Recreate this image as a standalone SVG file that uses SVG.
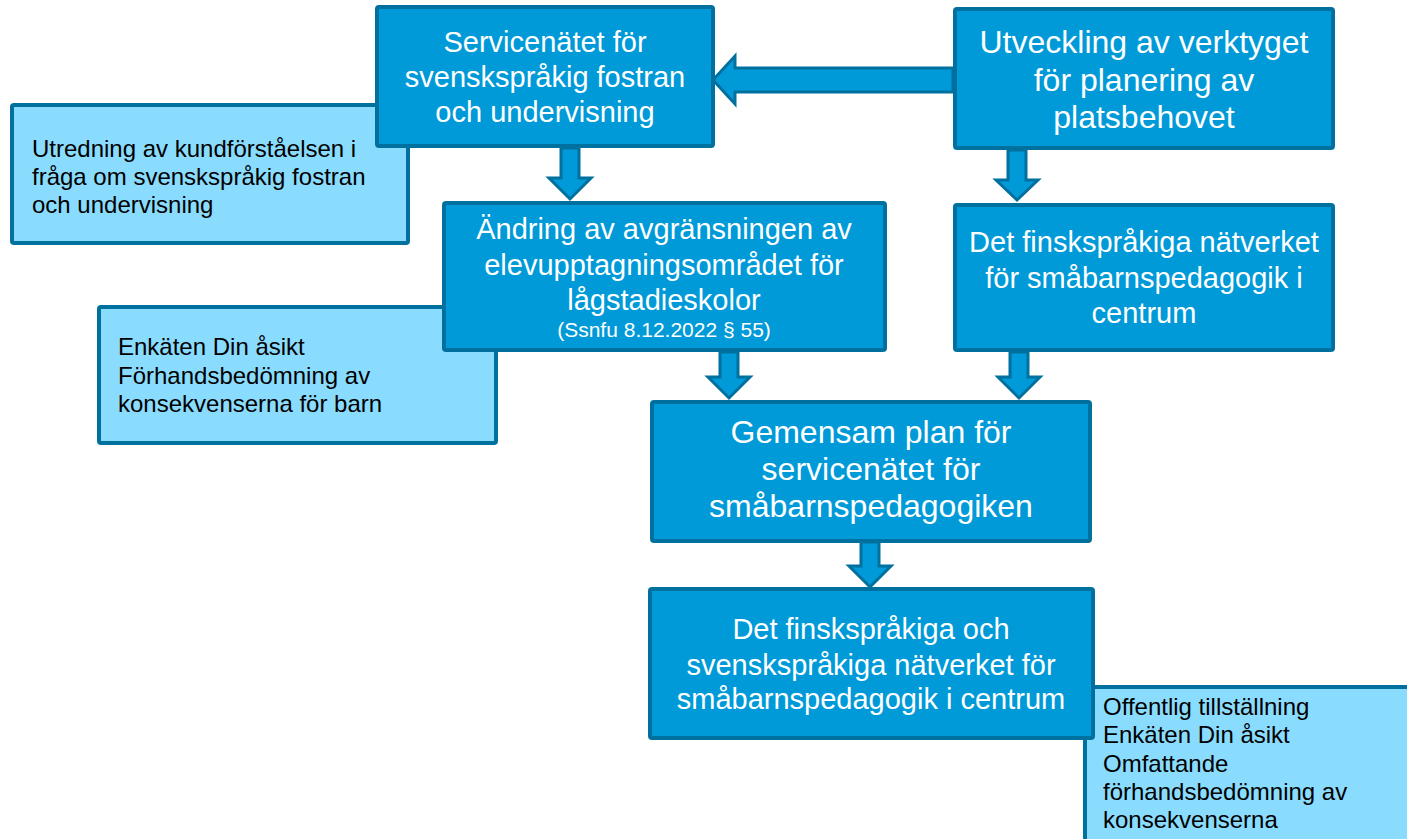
<svg xmlns="http://www.w3.org/2000/svg" width="1407" height="839" viewBox="0 0 1407 839">
<style>
.dark{fill:#009AD8;stroke:#00709E;stroke-width:4}
.light{fill:#8ADCFF;stroke:#00709E;stroke-width:4}
.arrow{fill:#009AD8;stroke:#00709E;stroke-width:3;stroke-linejoin:miter}
.wt{font-family:"Liberation Sans",Arial,sans-serif;fill:#FFFFFF;text-anchor:middle}
.bt{font-family:"Liberation Sans",Arial,sans-serif;fill:#000000;font-size:24px}
</style>
<rect width="1407" height="839" fill="#FFFFFF"/>
<g id="node-utredning">
<rect class="light" x="12" y="105" width="396" height="138" rx="2"/>
<text class="bt" x="32"><tspan x="32" y="157">Utredning av kundförståelsen i</tspan><tspan x="32" y="185">fråga om svenskspråkig fostran</tspan><tspan x="32" y="213">och undervisning</tspan></text>
</g>
<g id="node-enkaten">
<rect class="light" x="99" y="307" width="397" height="136" rx="2"/>
<text class="bt"><tspan x="118" y="355">Enkäten Din åsikt</tspan><tspan x="118" y="384">Förhandsbedömning av</tspan><tspan x="118" y="412">konsekvenserna för barn</tspan></text>
</g>
<g id="node-offentlig">
<rect class="light" x="1085" y="687" width="340" height="170" rx="2"/>
<text class="bt"><tspan x="1103" y="715">Offentlig tillställning</tspan><tspan x="1103" y="743">Enkäten Din åsikt</tspan><tspan x="1103" y="772">Omfattande</tspan><tspan x="1103" y="800">förhandsbedömning av</tspan><tspan x="1103" y="828">konsekvenserna</tspan></text>
</g>
<g id="connectors">
<path class="arrow" d="M953,68 L735,68 L735,56 L713,80 L735,104 L735,92 L953,92 Z"/>
<path class="arrow" d="M561,148 L579,148 L579,178 L591,178 L570,199 L549,178 L561,178 Z"/>
<path class="arrow" d="M1008,150 L1026,150 L1026,180 L1038,180 L1017,200 L996,180 L1008,180 Z"/>
<path class="arrow" d="M720,352 L738,352 L738,377 L750,377 L729,398 L708,377 L720,377 Z"/>
<path class="arrow" d="M1010,352 L1028,352 L1028,377 L1040,377 L1019,398 L998,377 L1010,377 Z"/>
<path class="arrow" d="M861,542 L879,542 L879,566 L891,566 L870,587 L849,566 L861,566 Z"/>
</g>
<g id="node-servicenatet">
<rect class="dark" x="377" y="7" width="336" height="139" rx="2"/>
<text class="wt" font-size="29"><tspan x="545" y="52">Servicenätet för</tspan><tspan x="545" y="87">svenskspråkig fostran</tspan><tspan x="545" y="122">och undervisning</tspan></text>
</g>
<g id="node-utveckling">
<rect class="dark" x="955" y="9" width="378" height="139" rx="2"/>
<text class="wt" font-size="32"><tspan x="1144" y="53">Utveckling av verktyget</tspan><tspan x="1144" y="91">för planering av</tspan><tspan x="1144" y="128">platsbehovet</tspan></text>
</g>
<g id="node-andring">
<rect class="dark" x="444" y="203" width="441" height="147" rx="2"/>
<text class="wt" font-size="29"><tspan x="664" y="239">Ändring av avgränsningen av</tspan><tspan x="664" y="275">elevupptagningsområdet för</tspan><tspan x="664" y="310">lågstadieskolor</tspan></text>
<text class="wt" font-size="21" x="664" y="337">(Ssnfu 8.12.2022 § 55)</text>
</g>
<g id="node-finska">
<rect class="dark" x="955" y="205" width="378" height="145" rx="2"/>
<text class="wt" font-size="29"><tspan x="1144" y="252">Det finskspråkiga nätverket</tspan><tspan x="1144" y="288">för småbarnspedagogik i</tspan><tspan x="1144" y="323">centrum</tspan></text>
</g>
<g id="node-gemensam">
<rect class="dark" x="652" y="402" width="438" height="139" rx="2"/>
<text class="wt" font-size="32"><tspan x="871" y="443">Gemensam plan för</tspan><tspan x="871" y="480">servicenätet för</tspan><tspan x="871" y="517">småbarnspedagogiken</tspan></text>
</g>
<g id="node-finska-svenska">
<rect class="dark" x="650" y="589" width="443" height="149" rx="2"/>
<text class="wt" font-size="29"><tspan x="871" y="639">Det finskspråkiga och</tspan><tspan x="871" y="675">svenskspråkiga nätverket för</tspan><tspan x="871" y="709">småbarnspedagogik i centrum</tspan></text>
</g>
</svg>
